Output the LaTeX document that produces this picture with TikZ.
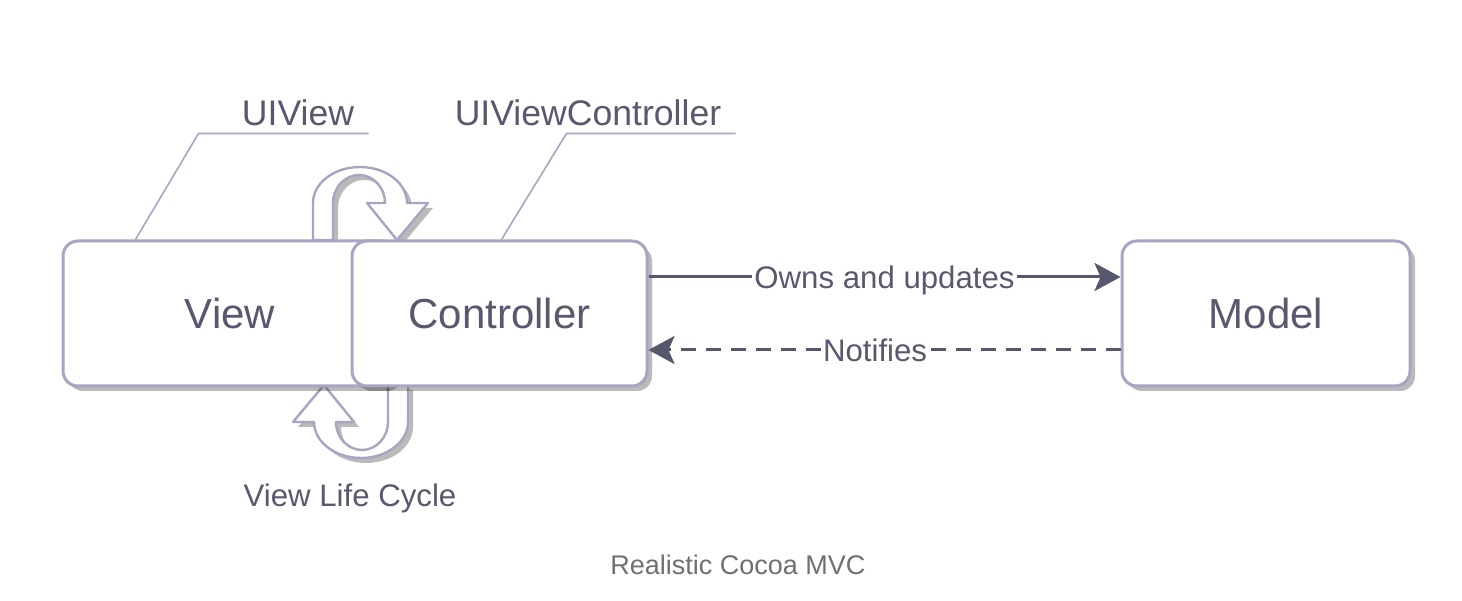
\documentclass[tikz,border=0pt]{standalone}
\usepackage{fontspec}
\setmainfont{Liberation Sans}
\usetikzlibrary{positioning,arrows.meta,shadows}
\definecolor{mvcedge}{RGB}{166,166,194}
\definecolor{mvctext}{RGB}{88,88,110}
\definecolor{mvcdark}{RGB}{86,86,108}
\definecolor{mvcgrey}{RGB}{112,112,112}

\tikzset{
  flatshadow/.style={drop shadow={shadow xshift=2.5pt,shadow yshift=-2.5pt,fill=black,opacity=0.27}},
  box/.style={draw=mvcedge, line width=1.5pt, fill=white, rounded corners=7.5pt,
    minimum height=72.5pt, text=mvctext, font=\fontsize{21}{25}\selectfont, flatshadow},
  uturn/.style={draw=mvcedge, line width=1.2pt, fill=white, line join=round, flatshadow},
  callout/.style={draw=mvcedge, line width=0.8pt},
  tag/.style={text=mvctext, font=\fontsize{17.8}{21}\selectfont},
  flow/.style={draw=mvcdark, line width=1.5pt, -{Stealth[length=13pt,width=14pt,inset=3pt]}},
  flowlabel/.style={fill=white, inner sep=1pt, text depth=0pt, text=mvctext, font=\fontsize{15.6}{18}\selectfont},
}

\begin{document}
\begin{tikzpicture}[x=0.5pt,y=0.5pt]
\useasboundingbox (0,0) rectangle (1462,600);

% life cycle arrows (behind the boxes)
\draw[uturn] (313,360) -- (313,397) arc[start angle=180, end angle=0, x radius=23.5pt, y radius=18pt]
  -- (428,397) -- (397,360) -- (367,397) -- (385,397)
  arc[start angle=0, end angle=180, x radius=13pt, y radius=14pt] -- (333,360) -- cycle;
\begin{scope}[rotate around={180:(360.5,287.5)}]
\draw[uturn] (313,360) -- (313,397) arc[start angle=180, end angle=0, x radius=23.5pt, y radius=18pt]
  -- (428,397) -- (397,360) -- (367,397) -- (385,397)
  arc[start angle=0, end angle=180, x radius=13pt, y radius=14pt] -- (333,360) -- cycle;
\end{scope}

% boxes
\node[box, minimum width=167pt, text depth=0pt] (view) at (230,286.5) {View};
\node[box, minimum width=147.5pt] (ctrl) at (499.5,286.5) {Controller};
\node[box, minimum width=144pt] (model) at (1266,286.5) {Model};

% callouts
\node[tag] (uiview) at (298,487) {UIView};
\node[tag] (uivc) at (588,487) {UIViewController};
\draw[callout] ([xshift=37pt]view.north west) -- ++(63,106) -- ++(170,0);
\draw[callout] ([xshift=75.5pt]ctrl.north west) -- ++(65,106) -- ++(169,0);

\node[flowlabel, fill=none] (cycle) at (350,105) {View Life Cycle};

% messages
\draw[flow] ([yshift=18.25pt]ctrl.east) -- node[flowlabel] {Owns and updates} ([yshift=18.25pt]model.west);
\draw[flow, dash pattern=on 7.5pt off 5pt] ([yshift=-18.25pt]model.west) -- node[flowlabel, pos=0.52] {Notifies} ([yshift=-18.25pt]ctrl.east);

\node[text=mvcgrey, font=\fontsize{13.5}{16}\selectfont] (caption) at (738,35) {Realistic Cocoa MVC};
\end{tikzpicture}
\end{document}
